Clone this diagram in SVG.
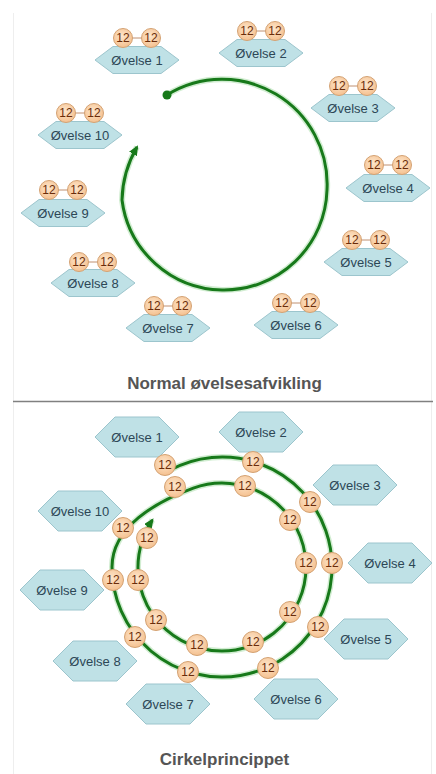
<svg xmlns="http://www.w3.org/2000/svg" xmlns:xlink="http://www.w3.org/1999/xlink" width="436" height="774" viewBox="0 0 436 774">
<style>
.hex{fill:#bfe1e6;stroke:#9cc5cd;stroke-width:1}
.lbl{font-family:"Liberation Sans",Arial,sans-serif;font-size:13px;fill:#2d4756;text-anchor:middle}
.nc{fill:url(#peach);stroke:#d4a273;stroke-width:1}
.nt{font-family:"Liberation Sans",Arial,sans-serif;font-size:12px;fill:#6a2c0a;text-anchor:middle}
.pair{stroke:#c09070;stroke-width:1}
.cap{font-family:"Liberation Sans",Arial,sans-serif;font-size:17px;font-weight:bold;fill:#555;text-anchor:middle}
.flow{fill:none;stroke:#17791a;stroke-width:3}
.halo{fill:none;stroke:#9ad89a;stroke-width:6;stroke-opacity:0.45}
.frame{stroke:#eeeeee;stroke-width:1}
</style>
<defs>
<radialGradient id="peach" cx="0.45" cy="0.4" r="0.6">
<stop offset="0" stop-color="#fde6cc"/>
<stop offset="1" stop-color="#f5c190"/>
</radialGradient>
<polygon id="hexT" points="-42,0 -24,-13.5 24,-13.5 42,0 24,13.5 -24,13.5"/>
<polygon id="hexB" points="-42,0 -22,-20 22,-20 42,0 22,20 -22,20"/>
<marker id="arr" markerUnits="userSpaceOnUse" markerWidth="11" markerHeight="9" refX="8" refY="4.5" orient="auto">
<path d="M0,0 L10,4.5 L0,9 z" fill="#17791a"/>
</marker>
</defs>
<rect width="436" height="774" fill="#ffffff"/>
<g id="frame">
<line class="frame" x1="13.5" y1="13" x2="13.5" y2="774"/>
<line class="frame" x1="431.5" y1="13" x2="431.5" y2="774"/>
<line x1="13" y1="401.5" x2="433" y2="401.5" stroke="#808080" stroke-width="1.5"/>
</g>
<g id="connectors">
<path class="halo" d="M167,95 A105,105 0 0 1 327,190 A103,103 0 0 1 222,290 A103,103 0 0 1 122,200 A110,110 0 0 1 137,147"/>
<path class="flow" marker-end="url(#arr)" d="M167,95 A105,105 0 0 1 327,190 A103,103 0 0 1 222,290 A103,103 0 0 1 122,200 A110,110 0 0 1 137,147"/>
<circle cx="167" cy="95" r="4.5" fill="#17791a"/>
<path class="halo" d="M168.7,470.8 A110,110 0 1 1 112,567 C112,527 155.7,501.8 193.3,488.1 A84,84 0 1 1 152.4,520"/>
<path class="flow" marker-end="url(#arr)" d="M168.7,470.8 A110,110 0 1 1 112,567 C112,527 155.7,501.8 193.3,488.1 A84,84 0 1 1 152.4,520"/>
</g>
<g id="normal">
<g id="n-ovelse-1"><use href="#hexT" class="hex" x="137" y="60"/><text class="lbl" x="137" y="64.5">Øvelse 1</text><line class="pair" x1="132" y1="38" x2="142" y2="38"/><circle class="nc" cx="123" cy="38" r="9.5"/><text class="nt" x="123" y="42">12</text><circle class="nc" cx="151" cy="38" r="9.5"/><text class="nt" x="151" y="42">12</text></g>
<g id="n-ovelse-2"><use href="#hexT" class="hex" x="261" y="53"/><text class="lbl" x="261" y="57.5">Øvelse 2</text><line class="pair" x1="256" y1="31" x2="266" y2="31"/><circle class="nc" cx="247" cy="31" r="9.5"/><text class="nt" x="247" y="35">12</text><circle class="nc" cx="275" cy="31" r="9.5"/><text class="nt" x="275" y="35">12</text></g>
<g id="n-ovelse-3"><use href="#hexT" class="hex" x="353" y="108"/><text class="lbl" x="353" y="112.5">Øvelse 3</text><line class="pair" x1="348" y1="86" x2="358" y2="86"/><circle class="nc" cx="339" cy="86" r="9.5"/><text class="nt" x="339" y="90">12</text><circle class="nc" cx="367" cy="86" r="9.5"/><text class="nt" x="367" y="90">12</text></g>
<g id="n-ovelse-4"><use href="#hexT" class="hex" x="388" y="188"/><text class="lbl" x="388" y="192.5">Øvelse 4</text><line class="pair" x1="383" y1="165" x2="393" y2="165"/><circle class="nc" cx="374" cy="165" r="9.5"/><text class="nt" x="374" y="169">12</text><circle class="nc" cx="402" cy="165" r="9.5"/><text class="nt" x="402" y="169">12</text></g>
<g id="n-ovelse-5"><use href="#hexT" class="hex" x="366" y="262"/><text class="lbl" x="366" y="266.5">Øvelse 5</text><line class="pair" x1="361" y1="240" x2="371" y2="240"/><circle class="nc" cx="352" cy="240" r="9.5"/><text class="nt" x="352" y="244">12</text><circle class="nc" cx="380" cy="240" r="9.5"/><text class="nt" x="380" y="244">12</text></g>
<g id="n-ovelse-6"><use href="#hexT" class="hex" x="296" y="325"/><text class="lbl" x="296" y="329.5">Øvelse 6</text><line class="pair" x1="291" y1="303" x2="301" y2="303"/><circle class="nc" cx="282" cy="303" r="9.5"/><text class="nt" x="282" y="307">12</text><circle class="nc" cx="310" cy="303" r="9.5"/><text class="nt" x="310" y="307">12</text></g>
<g id="n-ovelse-7"><use href="#hexT" class="hex" x="168" y="328"/><text class="lbl" x="168" y="332.5">Øvelse 7</text><line class="pair" x1="163" y1="306" x2="173" y2="306"/><circle class="nc" cx="154" cy="306" r="9.5"/><text class="nt" x="154" y="310">12</text><circle class="nc" cx="182" cy="306" r="9.5"/><text class="nt" x="182" y="310">12</text></g>
<g id="n-ovelse-8"><use href="#hexT" class="hex" x="93" y="283"/><text class="lbl" x="93" y="287.5">Øvelse 8</text><line class="pair" x1="88" y1="262" x2="98" y2="262"/><circle class="nc" cx="79" cy="262" r="9.5"/><text class="nt" x="79" y="266">12</text><circle class="nc" cx="107" cy="262" r="9.5"/><text class="nt" x="107" y="266">12</text></g>
<g id="n-ovelse-9"><use href="#hexT" class="hex" x="63" y="213"/><text class="lbl" x="63" y="217.5">Øvelse 9</text><line class="pair" x1="58" y1="190" x2="68" y2="190"/><circle class="nc" cx="49" cy="190" r="9.5"/><text class="nt" x="49" y="194">12</text><circle class="nc" cx="77" cy="190" r="9.5"/><text class="nt" x="77" y="194">12</text></g>
<g id="n-ovelse-10"><use href="#hexT" class="hex" x="80" y="135"/><text class="lbl" x="80" y="139.5">Øvelse 10</text><line class="pair" x1="75" y1="113" x2="85" y2="113"/><circle class="nc" cx="66" cy="113" r="9.5"/><text class="nt" x="66" y="117">12</text><circle class="nc" cx="94" cy="113" r="9.5"/><text class="nt" x="94" y="117">12</text></g>
<text id="cap-normal" class="cap" x="224.5" y="389">Normal øvelsesafvikling</text>
</g>
<g id="cirkel">
<g id="c-ovelse-1"><use href="#hexB" class="hex" x="137" y="437"/><text class="lbl" x="137" y="441.5">Øvelse 1</text><circle class="nc" cx="165" cy="465" r="10.5"/><text class="nt" x="165" y="469">12</text><circle class="nc" cx="175" cy="487" r="10.5"/><text class="nt" x="175" y="491">12</text></g>
<g id="c-ovelse-2"><use href="#hexB" class="hex" x="261" y="432"/><text class="lbl" x="261" y="436.5">Øvelse 2</text><circle class="nc" cx="253" cy="462" r="10.5"/><text class="nt" x="253" y="466">12</text><circle class="nc" cx="245" cy="486" r="10.5"/><text class="nt" x="245" y="490">12</text></g>
<g id="c-ovelse-3"><use href="#hexB" class="hex" x="355" y="485"/><text class="lbl" x="355" y="489.5">Øvelse 3</text><circle class="nc" cx="310" cy="502" r="10.5"/><text class="nt" x="310" y="506">12</text><circle class="nc" cx="290" cy="520" r="10.5"/><text class="nt" x="290" y="524">12</text></g>
<g id="c-ovelse-4"><use href="#hexB" class="hex" x="390" y="563"/><text class="lbl" x="390" y="567.5">Øvelse 4</text><circle class="nc" cx="332" cy="563" r="10.5"/><text class="nt" x="332" y="567">12</text><circle class="nc" cx="306" cy="563" r="10.5"/><text class="nt" x="306" y="567">12</text></g>
<g id="c-ovelse-5"><use href="#hexB" class="hex" x="366" y="639"/><text class="lbl" x="366" y="643.5">Øvelse 5</text><circle class="nc" cx="318" cy="627" r="10.5"/><text class="nt" x="318" y="631">12</text><circle class="nc" cx="290" cy="612" r="10.5"/><text class="nt" x="290" y="616">12</text></g>
<g id="c-ovelse-6"><use href="#hexB" class="hex" x="296" y="699"/><text class="lbl" x="296" y="703.5">Øvelse 6</text><circle class="nc" cx="268" cy="668" r="10.5"/><text class="nt" x="268" y="672">12</text><circle class="nc" cx="253" cy="642" r="10.5"/><text class="nt" x="253" y="646">12</text></g>
<g id="c-ovelse-7"><use href="#hexB" class="hex" x="168" y="704"/><text class="lbl" x="168" y="708.5">Øvelse 7</text><circle class="nc" cx="188" cy="672" r="10.5"/><text class="nt" x="188" y="676">12</text><circle class="nc" cx="197" cy="645" r="10.5"/><text class="nt" x="197" y="649">12</text></g>
<g id="c-ovelse-8"><use href="#hexB" class="hex" x="95" y="661"/><text class="lbl" x="95" y="665.5">Øvelse 8</text><circle class="nc" cx="135" cy="637" r="10.5"/><text class="nt" x="135" y="641">12</text><circle class="nc" cx="156" cy="620" r="10.5"/><text class="nt" x="156" y="624">12</text></g>
<g id="c-ovelse-9"><use href="#hexB" class="hex" x="62" y="590"/><text class="lbl" x="62" y="594.5">Øvelse 9</text><circle class="nc" cx="113" cy="580" r="10.5"/><text class="nt" x="113" y="584">12</text><circle class="nc" cx="138" cy="580" r="10.5"/><text class="nt" x="138" y="584">12</text></g>
<g id="c-ovelse-10"><use href="#hexB" class="hex" x="80" y="511"/><text class="lbl" x="80" y="515.5">Øvelse 10</text><circle class="nc" cx="123" cy="528" r="10.5"/><text class="nt" x="123" y="532">12</text><circle class="nc" cx="147" cy="538" r="10.5"/><text class="nt" x="147" y="542">12</text></g>
<text id="cap-cirkel" class="cap" x="224.5" y="765">Cirkelprincippet</text>
</g>
</svg>
